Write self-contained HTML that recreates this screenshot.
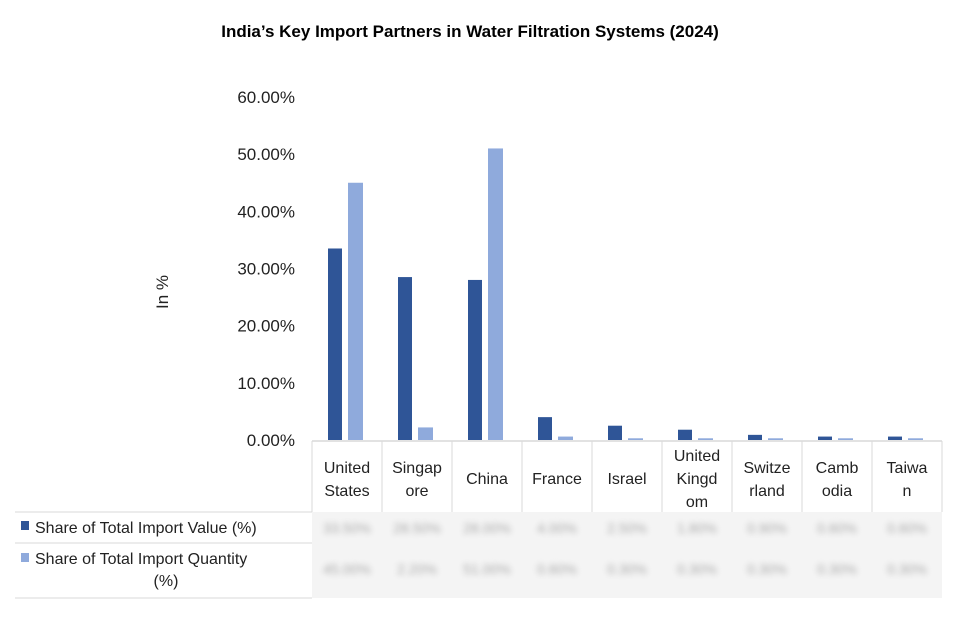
<!DOCTYPE html>
<html><head><meta charset="utf-8"><style>
body{margin:0;background:#fff;font-family:"Liberation Sans",sans-serif;}
svg text{font-family:"Liberation Sans",sans-serif;}
</style></head><body>
<svg width="973" height="630">
<text x="470" y="37" text-anchor="middle" font-size="17" font-weight="bold" fill="#000">India’s Key Import Partners in Water Filtration Systems (2024)</text>
<text transform="translate(168,292) rotate(-90)" text-anchor="middle" font-size="17" fill="#222">In %</text>
<g id="yt"></g><g id="bars"></g><g id="tbl"></g>
</svg>
<script>
const categories=[["United","States"],["Singap","ore"],["China"],["France"],["Israel"],["United","Kingd","om"],["Switze","rland"],["Camb","odia"],["Taiwa","n"]];
const valueShare=[33.5,28.5,28,4,2.5,1.8,0.9,0.6,0.6];
const qtyShare=[45,2.2,51,0.6,0.3,0.3,0.3,0.3,0.3];
const yTicks=[0,10,20,30,40,50,60];
const ns="http://www.w3.org/2000/svg";
const x0=312,cw=70,yBase=440,pxPer=343/60;
const y=v=>yBase-v*pxPer;
const cx=i=>x0+cw*i+cw/2;
function mk(t,a,p){const e=document.createElementNS(ns,t);for(const k in a)e.setAttribute(k,a[k]);p.appendChild(e);return e;}
const yt=document.getElementById('yt');
yTicks.forEach(v=>{const t=mk('text',{x:295,y:y(v)+6,'text-anchor':'end','font-size':17,fill:'#222'},yt);t.textContent=v.toFixed(2)+'%';

});
const bg=document.getElementById('bars');
valueShare.forEach((v,i)=>{const r=mk('rect',{x:cx(i)-19,y:y(v),width:14,height:yBase-y(v),fill:'#2f5597'},bg);

});
qtyShare.forEach((v,i)=>{const r=mk('rect',{x:cx(i)+1,y:y(v),width:15,height:yBase-y(v),fill:'#8faadc'},bg);

});
const tb=document.getElementById('tbl');
const lc='#d9d9d9';
mk('line',{x1:x0,y1:441,x2:x0+cw*9,y2:441,stroke:lc,'stroke-width':1.5},tb);
for(let i=0;i<=9;i++)mk('line',{x1:x0+cw*i,y1:441,x2:x0+cw*i,y2:512,stroke:lc},tb);
mk('line',{x1:15,y1:512,x2:312,y2:512,stroke:lc},tb);
mk('line',{x1:15,y1:543,x2:312,y2:543,stroke:lc},tb);
mk('line',{x1:15,y1:598,x2:312,y2:598,stroke:lc},tb);
categories.forEach((c,i)=>{const n=c.length;const top=n===1?478:(n===2?467:455);
c.forEach((s,j)=>{const t=mk('text',{x:cx(i),y:top+j*23+6,'text-anchor':'middle','font-size':16,fill:'#222'},tb);t.textContent=s;

});});
mk('rect',{x:312,y:512,width:630,height:86,fill:'#f4f4f4'},tb);
valueShare.forEach((v,i)=>{const t=mk('text',{x:cx(i),y:533,'text-anchor':'middle','font-size':14,fill:'#aaa',style:'filter:blur(3px)'},tb);t.textContent=v.toFixed(2)+'%';

});
qtyShare.forEach((v,i)=>{const t=mk('text',{x:cx(i),y:574,'text-anchor':'middle','font-size':14,fill:'#aaa',style:'filter:blur(3px)'},tb);t.textContent=v.toFixed(2)+'%';

});
let r=mk('rect',{x:21,y:521,width:8,height:9,fill:'#2f5597'},tb);


let t=mk('text',{x:35,y:533,'font-size':16,fill:'#222'},tb);t.textContent='Share of Total Import Value (%)';


r=mk('rect',{x:21,y:553,width:8,height:9,fill:'#8faadc'},tb);


t=mk('text',{x:35,y:564,'font-size':16,fill:'#222'},tb);t.textContent='Share of Total Import Quantity';


t=mk('text',{x:166,y:586,'text-anchor':'middle','font-size':16,fill:'#222'},tb);t.textContent='(%)';


</script>
</body></html>
